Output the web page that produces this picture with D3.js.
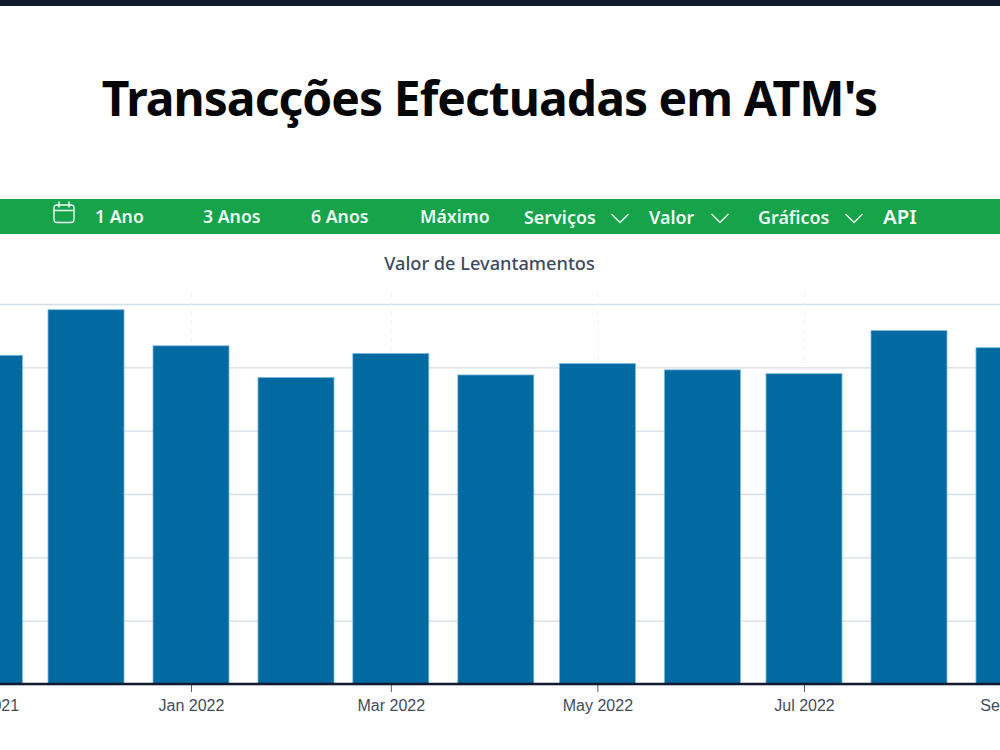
<!DOCTYPE html>
<html lang="pt">
<head>
<meta charset="utf-8">
<title>Transacções Efectuadas em ATM's</title>
<script src="https://cdn.jsdelivr.net/npm/d3@7"></script>
<style>
  html, body { margin: 0; padding: 0; background: #fff; overflow: hidden; }
  svg { display: block; }
  .head { font-family: "Noto Sans", sans-serif; }
  .axis-x text { font-family: "Liberation Sans", Arial, sans-serif; font-size: 16px; fill: #444c5c; }
</style>
</head>
<body>
<svg id="page" width="1000" height="750"></svg>
<script>
// Monthly value of ATM withdrawals on a 0-60 scale.
const months = ["2021-11-01", "2021-12-01", "2022-01-01", "2022-02-01", "2022-03-01", "2022-04-01",
                "2022-05-01", "2022-06-01", "2022-07-01", "2022-08-01", "2022-09-01"];
const withdrawals = [51.9, 59.1, 53.4, 48.4, 52.2, 48.8, 50.6, 49.6, 49.0, 55.8, 53.1];
const tickMonths = ["2021-11-01", "2022-01-01", "2022-03-01", "2022-05-01", "2022-07-01", "2022-09-01"];
const yTicks = [0, 10, 20, 30, 40, 50, 60];

const pageTitle = "Transacções Efectuadas em ATM's";
const chartTitle = "Valor de Levantamentos";
const navPeriods = ["1 Ano", "3 Anos", "6 Anos", "Máximo"];
const navMenus = ["Serviços", "Valor", "Gráficos"];
const navLink = "API";

const svg = d3.select("#page");
const parse = d3.utcParse("%Y-%m-%d");
const W = 1000;

// Page header
svg.append("rect").attr("width", W).attr("height", 6).attr("fill", "#111a2e");
svg.append("text").attr("class", "head")
  .attr("x", 489.5).attr("y", 116).attr("text-anchor", "middle")
  .attr("font-size", 48).attr("font-weight", 700).attr("fill", "#050608")
  .attr("letter-spacing", -0.95)
  .text(pageTitle);

// Navigation band
const nav = svg.append("g").attr("class", "head");
nav.append("rect").attr("y", 199).attr("width", W).attr("height", 35).attr("fill", "#16a34a");

const navInk = "#ecfdf3";
const calendar = nav.append("g").attr("fill", "none").attr("stroke", navInk)
  .attr("stroke-width", 1.4).attr("stroke-linecap", "round");
calendar.append("rect").attr("x", 54).attr("y", 205).attr("width", 20).attr("height", 17.5).attr("rx", 3);
calendar.append("path").attr("d", "M54 210.5H74M59 202V207M69 202V207");

const periodX = [95, 203, 311, 420];
nav.selectAll("text.period").data(navPeriods).join("text").attr("class", "period")
  .attr("x", (d, i) => periodX[i]).attr("y", 222.5)
  .attr("font-size", 17.7).attr("font-weight", 600).attr("fill", navInk)
  .text(d => d);

const menuX = [524, 649, 758];
const chevronX = [620, 720, 854];
nav.selectAll("text.menu").data(navMenus).join("text").attr("class", "menu")
  .attr("x", (d, i) => menuX[i]).attr("y", 223.5)
  .attr("font-size", 17.9).attr("font-weight", 600).attr("fill", navInk)
  .text(d => d);
nav.selectAll("path.chevron").data(navMenus).join("path").attr("class", "chevron")
  .attr("d", (d, i) => `M${chevronX[i] - 8.5} 214L${chevronX[i]} 222.5L${chevronX[i] + 8.5} 214`)
  .attr("fill", "none").attr("stroke", navInk).attr("stroke-width", 1.4);
nav.append("text").attr("x", 883).attr("y", 224)
  .attr("font-size", 20.4).attr("font-weight", 600).attr("fill", "#f4fff8")
  .text(navLink);

// Chart title
svg.append("text").attr("class", "head")
  .attr("x", 489.5).attr("y", 270).attr("text-anchor", "middle")
  .attr("font-size", 18.2).attr("font-weight", 500).attr("fill", "#3f4a5e")
  .text(chartTitle);

// Scales: the plot runs past both page edges, so the y axis labels fall outside
const x = d3.scaleUtc()
  .domain([parse("2022-01-01"), parse("2022-07-01")])
  .range([191, 804]);
const y = d3.scaleLinear().domain([0, 60]).range([684, 304]);
const barWidth = 76;

// Gridlines
const gridY = svg.append("g").attr("transform", "translate(1000,0)")
  .call(d3.axisLeft(y).tickValues(yTicks).tickSize(W).tickFormat(""));
gridY.select(".domain").remove();
gridY.selectAll("line").attr("stroke", "#d5dde5").attr("stroke-width", 1.3);

const gridX = svg.append("g").attr("transform", "translate(0,684)")
  .call(d3.axisTop(x).tickValues(tickMonths.map(parse)).tickSize(394).tickFormat(""));
gridX.select(".domain").remove();
gridX.selectAll("line").attr("stroke", "#eef1f5").attr("stroke-dasharray", "4 5");

// Bars
svg.append("g").selectAll("rect").data(months).join("rect")
  .attr("x", d => x(parse(d)) - barWidth / 2)
  .attr("width", barWidth)
  .attr("y", (d, i) => y(withdrawals[i]))
  .attr("height", (d, i) => y(0) - y(withdrawals[i]))
  .attr("fill", "#0369a1")
  .attr("stroke", "#7cb9dc").attr("stroke-width", 0.8);

// Time axis
const axisX = svg.append("g").attr("class", "axis-x").attr("transform", "translate(0,684)")
  .call(d3.axisBottom(x).tickValues(tickMonths.map(parse))
    .tickFormat(d3.utcFormat("%b %Y")).tickSize(8).tickPadding(8));
axisX.select(".domain").remove();
axisX.selectAll("line").attr("stroke", "#555c68").attr("stroke-width", 1);
svg.append("line").attr("x1", 0).attr("x2", W).attr("y1", y(0)).attr("y2", y(0))
  .attr("stroke", "#111a2e").attr("stroke-width", 2.4);
</script>
</body>
</html>
